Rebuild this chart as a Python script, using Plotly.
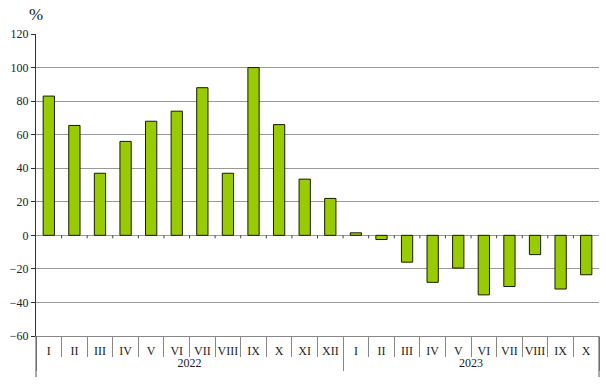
import plotly.graph_objects as go

years = ["2022"] * 12 + ["2023"] * 10
months = ["I", "II", "III", "IV", "V", "VI", "VII", "VIII", "IX", "X", "XI", "XII",
          "I", "II", "III", "IV", "V", "VI", "VII", "VIII", "IX", "X"]
values = [83, 65.5, 37, 56, 68, 74, 88, 37, 100, 66, 33.5, 22,
          1.5, -2.5, -16, -28, -19.5, -35.5, -30.5, -11.5, -32, -23.5]
y_ticks = list(range(-60, 121, 20))

SERIF = "Liberation Serif, Times New Roman, serif"

fig = go.Figure()
fig.add_trace(go.Bar(
    x=[years, months], y=values,
    marker=dict(color="#99cc00", line=dict(color="#1a1a00", width=1)),
    width=0.44,
))

shapes = []
n = len(values)
for i in range(n - 1):
    shapes.append(dict(type="line", xref="x", yref="y", x0=i + 0.5, x1=i + 0.5,
                       y0=0, y1=-1.8, line=dict(color="#444", width=1)))
for xp in (0, 1):
    shapes.append(dict(type="line", xref="paper", yref="paper", x0=xp, x1=xp,
                       y0=0, y1=-0.136, line=dict(color="#555", width=1)))

fig.update_layout(
    width=606, height=389,
    margin=dict(l=36, r=7, t=34, b=53),
    paper_bgcolor="white", plot_bgcolor="white",
    showlegend=False,
    shapes=shapes,
    font=dict(family=SERIF, size=11, color="#222"),
    xaxis=dict(
        type="multicategory",
        showgrid=False, zeroline=False,
        ticks="outside", ticklen=20, tickcolor="#888",
        showdividers=True, dividercolor="#888", dividerwidth=1,
        showline=True, linecolor="#888", linewidth=1,
        tickangle=0, automargin=False, ticklabelstandoff=4,
        tickfont=dict(family=SERIF, size=12, color="#222"),
        range=[-0.5, n - 0.5],
    ),
    yaxis=dict(
        range=[-60, 120], tickvals=y_ticks,
        showgrid=True, gridcolor="#999", gridwidth=1,
        zeroline=True, zerolinecolor="#999", zerolinewidth=1,
        showline=True, linecolor="#333", linewidth=1,
        ticks="outside", ticklen=4, tickcolor="#333",
        automargin=False,
        tickfont=dict(family=SERIF, size=12, color="#222"),
    ),
    annotations=[dict(text="%", xref="paper", yref="paper", x=0.0, y=1.066,
                      xanchor="center", yanchor="middle", showarrow=False,
                      font=dict(family=SERIF, size=17, color="#222"))],
)

fig.write_html("out.html", config={"displayModeBar": False},
               post_script="document.body.style.margin='0';document.body.style.overflow='hidden';")
